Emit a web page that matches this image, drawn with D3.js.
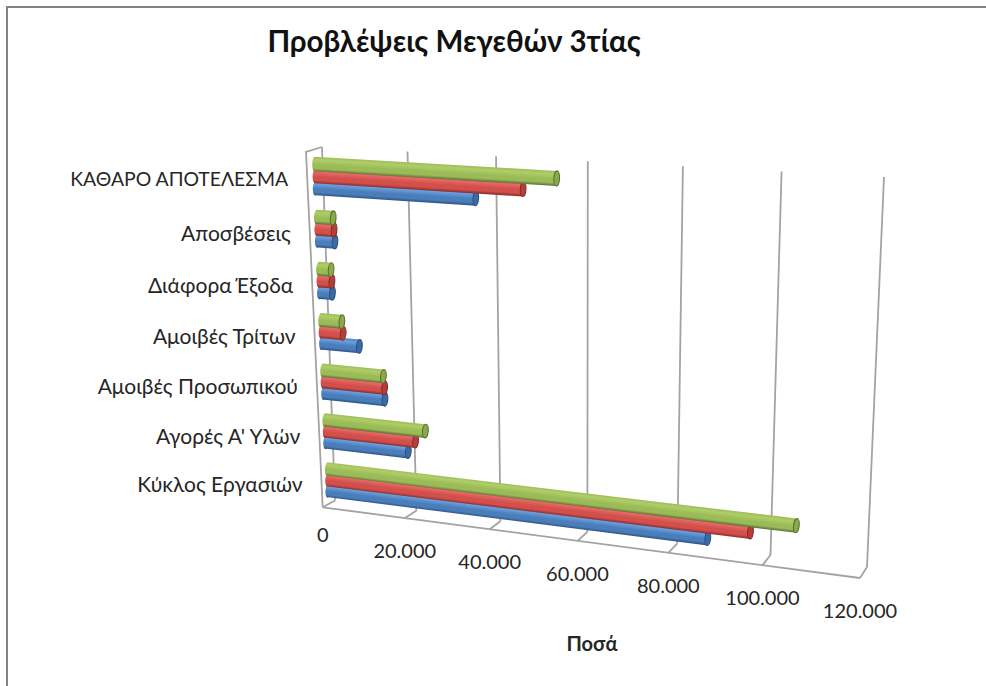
<!DOCTYPE html>
<html lang="el">
<head>
<meta charset="utf-8">
<script src="https://cdn.jsdelivr.net/npm/d3@7/dist/d3.min.js"></script>
<style>
  html, body { margin: 0; padding: 0; background: #fff; }
  svg { display: block; }
  text { font-family: Lato, "Open Sans", "Noto Sans", sans-serif; fill: #262626; }
</style>
</head>
<body>
<svg id="chart" width="986" height="686"></svg>
<script>
// Category names, top to bottom
const categories = ["ΚΑΘΑΡΟ ΑΠΟΤΕΛΕΣΜΑ", "Αποσβέσεις", "Διάφορα Έξοδα", "Αμοιβές Τρίτων",
                    "Αμοιβές Προσωπικού", "Αγορές Α' Υλών", "Κύκλος Εργασιών"];
// Three yearly forecast series
const seriesNames = ["year1", "year2", "year3"];
const year1 = [36900, 4100, 3000, 9000, 14700, 19900, 87500];
const year2 = [47400, 4000, 3000, 5200, 14700, 21700, 96500];
const year3 = [54700, 3900, 2900, 5000, 14500, 24100, 106000];
const valueTicks = [0, 20000, 40000, 60000, 80000, 100000, 120000];

const chartTitle = "Προβλέψεις Μεγεθών 3τίας";
const axisTitle = "Ποσά";

const seriesValues = [year1, year2, year3];
const seriesShades = [
  { light: "#6a9edc", base: "#4a7ebb", dark: "#2c5082", cap: "#3c6aa3" },
  { light: "#e56a66", base: "#d24f4b", dark: "#852c2a", cap: "#b53e3b" },
  { light: "#b0ce66", base: "#9bbb59", dark: "#5a7030", cap: "#8aa94b" }
];

const svg = d3.select("#chart");
const defs = svg.append("defs");

// Maps the unit square (u along the value axis, h up the wall) onto a quadrilateral
function homography(p00, p10, p11, p01) {
  const dx1 = p10[0] - p11[0], dx2 = p01[0] - p11[0], sx = p00[0] - p10[0] + p11[0] - p01[0];
  const dy1 = p10[1] - p11[1], dy2 = p01[1] - p11[1], sy = p00[1] - p10[1] + p11[1] - p01[1];
  const det = dx1 * dy2 - dx2 * dy1;
  const g = (sx * dy2 - dx2 * sy) / det;
  const k = (dx1 * sy - sx * dy1) / det;
  const a = p10[0] - p00[0] + g * p10[0], b = p01[0] - p00[0] + k * p01[0];
  const d = p10[1] - p00[1] + g * p10[1], e = p01[1] - p00[1] + k * p01[1];
  return (u, h) => {
    const w = g * u + k * h + 1;
    return [(a * u + b * h + p00[0]) / w, (d * u + e * h + p00[1]) / w];
  };
}

// Back wall and the plane through the front floor edge
const backPlane = homography([335, 500.5], [867, 567], [884, 177], [322, 147]);
const frontPlane = homography([322.7, 507.3], [860, 578], [875, 186], [306, 152]);

// depth 0 is the front edge, depth 1 the back wall
function project(u, h, depth) {
  const f = frontPlane(u, h), b = backPlane(u, h);
  return [f[0] + (b[0] - f[0]) * depth, f[1] + (b[1] - f[1]) * depth];
}

const valueScale = d3.scaleLinear().domain([0, 120000]).range([0, 1]);
const categoryScale = d3.scaleBand().domain(categories).range([1, 0]);
const seriesScale = d3.scaleBand().domain(seriesNames)
  .range([categoryScale.bandwidth() * 0.68 * -0.5, categoryScale.bandwidth() * 0.68 * 0.5]);
const barRadius = seriesScale.bandwidth() * 0.6;
const barDepth = 0.5;

const line = d3.line();
const thousands = d3.formatLocale({ decimal: ",", thousands: ".", grouping: [3], currency: ["", ""] }).format(",");

// Outer border: top and left edges only
svg.append("path")
  .attr("d", line([[7, 686], [7, 7], [986, 7]]))
  .attr("fill", "none").attr("stroke", "#828282").attr("stroke-width", 2);

const wallColor = "#a3a3a3";
const walls = svg.append("g").attr("fill", "none").attr("stroke", wallColor).attr("stroke-width", 1.8);

// Vertical gridlines on the back wall
valueTicks.forEach(v => {
  const u = valueScale(v);
  walls.append("path").attr("d", line([project(u, 0, 1), project(u, 1, 1)]));
  // Tick running across the floor from the back wall to the front edge
  walls.append("path").attr("d", line([project(u, 0, 1), project(u, 0, 0)]));
});
// Front floor edge, side wall front edge and its top
walls.append("path").attr("d", line([project(0, 0, 0), project(1, 0, 0)]));
walls.append("path").attr("d", line([project(0, 0, 0), project(0, 1, 0), project(0, 1, 1)]));

// Cylinders, lowest series first so that the upper ones overlap it
const bars = svg.append("g");
categories.forEach((cat, ci) => {
  const hc = categoryScale(cat) + categoryScale.bandwidth() / 2;
  seriesNames.forEach((name, si) => {
    const shade = seriesShades[si];
    const h = hc + seriesScale(name) + seriesScale.bandwidth() / 2;
    const u = valueScale(seriesValues[si][ci]);
    const topStart = project(0, h + barRadius, barDepth), topEnd = project(u, h + barRadius, barDepth);
    const botStart = project(0, h - barRadius, barDepth), botEnd = project(u, h - barRadius, barDepth);
    const ry = Math.hypot(topEnd[0] - botEnd[0], topEnd[1] - botEnd[1]) / 2;
    const rx = 2.8;
    const axisStart = project(0, h, barDepth), axisEnd = project(u, h, barDepth);
    const angle = Math.atan2(axisEnd[1] - axisStart[1], axisEnd[0] - axisStart[0]);
    const nx = -Math.sin(angle), ny = Math.cos(angle);
    const mid = [(axisStart[0] + axisEnd[0]) / 2, (axisStart[1] + axisEnd[1]) / 2];

    const gradientId = `cyl-${ci}-${si}`;
    const gradient = defs.append("linearGradient").attr("id", gradientId)
      .attr("gradientUnits", "userSpaceOnUse")
      .attr("x1", mid[0] - nx * ry).attr("y1", mid[1] - ny * ry)
      .attr("x2", mid[0] + nx * ry).attr("y2", mid[1] + ny * ry);
    [[0, shade.base], [0.22, shade.light], [0.55, shade.base], [0.78, shade.base], [1, shade.dark]]
      .forEach(([o, c]) => gradient.append("stop").attr("offset", o).attr("stop-color", c));

    const rot = angle * 180 / Math.PI;
    bars.append("path")
      .attr("d", `M${topStart} L${topEnd} L${botEnd} L${botStart} A${rx} ${ry} ${rot} 0 1 ${topStart} Z`)
      .attr("fill", `url(#${gradientId})`);
    // End cap facing the viewer
    bars.append("ellipse")
      .attr("rx", rx).attr("ry", ry)
      .attr("transform", `translate(${axisEnd}) rotate(${rot})`)
      .attr("fill", shade.cap).attr("stroke", shade.dark).attr("stroke-width", 1.1);
  });
});

// Category labels, right-aligned against the side wall; the all-capitals row is set smaller
svg.append("g").selectAll("text").data(categories).join("text")
  .attr("text-anchor", "end")
  .attr("font-size", d => d === d.toUpperCase() ? 19.4 : 21)
  .attr("dominant-baseline", "middle")
  .attr("x", d => project(0, categoryScale(d) + categoryScale.bandwidth() / 2, 0)[0] - 19)
  .attr("y", (d, i) => project(0, categoryScale(d) + categoryScale.bandwidth() / 2, 0)[1] + (i === 0 ? 2 : 4))
  .text(d => d);

// Value labels below the front floor edge
svg.append("g").selectAll("text").data(valueTicks).join("text")
  .attr("text-anchor", "middle")
  .attr("font-size", 20)
  .attr("dominant-baseline", "middle")
  .attr("x", d => project(valueScale(d), 0, 0)[0])
  .attr("y", d => project(valueScale(d), 0, 0)[1] + (d === 0 ? 30 : 35))
  .text(d => thousands(d));

svg.append("text").attr("x", 454).attr("y", 52)
  .attr("text-anchor", "middle").attr("font-size", 29.5).attr("font-weight", 700)
  .style("fill", "#111").text(chartTitle);

svg.append("text").attr("x", 592).attr("y", 651)
  .attr("text-anchor", "middle").attr("font-size", 20).attr("font-weight", 700)
  .text(axisTitle);
</script>
</body>
</html>
